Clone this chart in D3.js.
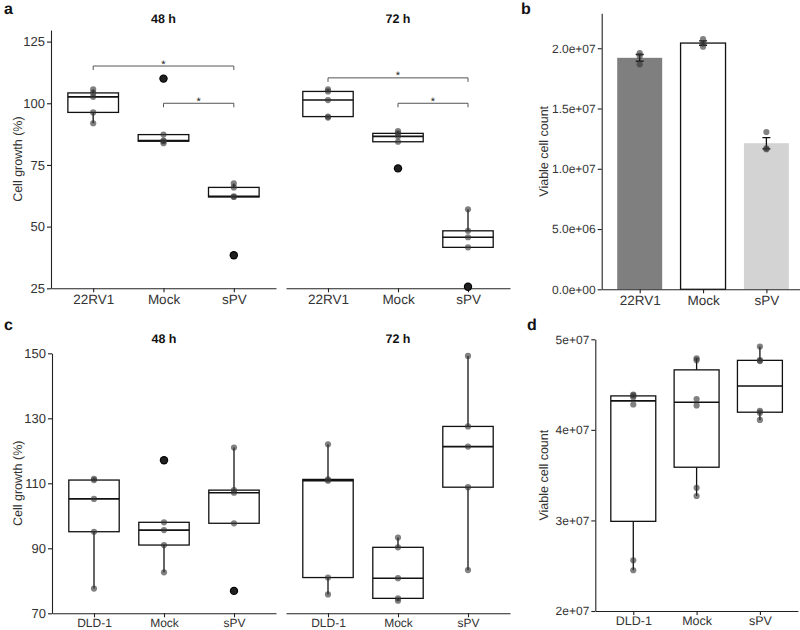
<!DOCTYPE html>
<html>
<head>
<meta charset="utf-8">
<script src="https://cdn.jsdelivr.net/npm/d3@7"></script>
<style>
  body { margin: 0; background: #fff; }
  svg { display: block; font-family: "Liberation Sans", Arial, sans-serif; text-rendering: geometricPrecision; }
</style>
</head>
<body>
<svg id="chart" width="800" height="630"></svg>
<script>
// ---------- DATA ----------
const catsA = ["22RV1", "Mock", "sPV"];
const catsC = ["DLD-1", "Mock", "sPV"];
const facetTitles = ["48 h", "72 h"];

// Panel a: cell growth (%) per replicate
const a48 = [
  [91.9, 96.3, 102.6, 104.2, 105.6],
  [83.8, 84.6, 84.9, 87.3, 110.0],
  [38.4, 62.0, 62.3, 65.9, 67.5]
];
const a72 = [
  [94.2, 94.6, 101.3, 104.8, 105.6],
  [73.6, 84.4, 86.6, 87.8, 88.7],
  [25.6, 41.6, 45.7, 48.3, 57.0]
];
// significance brackets: [from index, to index, height]
const aBrackets48 = [[0, 2, 115.1], [1, 2, 100.0]];
const aBrackets72 = [[0, 2, 110.3], [1, 2, 100.0]];
const aTicks = [25, 50, 75, 100, 125];

// Panel b: viable cell count replicates
const bPoints = [
  [19.59e6, 19.36e6, 18.67e6],
  [20.75e6, 20.41e6, 20.13e6],
  [13.05e6, 11.70e6, 11.62e6]
];
const bColors = ["#7f7f7f", "#ffffff", "#d3d3d3"];
const bTicks = [0, 5e6, 1e7, 1.5e7, 2e7];
const bTickLabels = ["0.0e+00", "5.0e+06", "1.0e+07", "1.5e+07", "2.0e+07"];

// Panel c: cell growth (%)
const c48 = [
  [77.6, 95.1, 105.2, 111.0, 111.4],
  [82.6, 91.0, 95.6, 98.0, 117.1],
  [76.9, 97.7, 107.1, 107.9, 121.0]
];
const c72 = [
  [75.8, 81.0, 110.8, 111.2, 122.0],
  [73.9, 74.6, 80.8, 90.3, 93.3],
  [83.3, 108.8, 121.3, 127.5, 149.2]
];
const cTicks = [70, 90, 110, 130, 150];

// Panel d: viable cell count
const dPoints = [
  [2.45e7, 2.56e7, 4.28e7, 4.36e7, 4.38e7, 4.39e7],
  [3.27e7, 3.36e7, 4.27e7, 4.34e7, 4.77e7, 4.79e7],
  [4.11e7, 4.19e7, 4.21e7, 4.76e7, 4.77e7, 4.92e7]
];
const dTicks = [2e7, 3e7, 4e7, 5e7];
const dTickLabels = ["2e+07", "3e+07", "4e+07", "5e+07"];

// ---------- HELPERS ----------
const svg = d3.select("#chart");
const AXIS_COL = "#222";
const TEXT_COL = "#333";
const FONT = "'Liberation Sans', Arial, sans-serif";

function boxStats(arr) {
  const s = arr.slice().sort(d3.ascending);
  const q1 = d3.quantile(s, 0.25), med = d3.quantile(s, 0.5), q3 = d3.quantile(s, 0.75);
  const iqr = q3 - q1;
  const inl = s.filter(v => v >= q1 - 1.5 * iqr && v <= q3 + 1.5 * iqr);
  return { q1, med, q3, lo: d3.min(inl), hi: d3.max(inl),
           out: s.filter(v => v < q1 - 1.5 * iqr || v > q3 + 1.5 * iqr) };
}

function styleAxis(g, fs) {
  g.selectAll("path.domain").attr("stroke", AXIS_COL).attr("stroke-width", 1.1);
  g.selectAll(".tick line").attr("stroke", AXIS_COL).attr("stroke-width", 1.1);
  g.selectAll(".tick text").attr("fill", TEXT_COL).style("font-size", fs + "px")
    .style("font-family", FONT);
}

function yAxis(x, y, ticks, labels, fs) {
  const ax = d3.axisLeft(y).tickValues(ticks).tickSize(4).tickSizeOuter(0).tickPadding(2);
  if (labels) ax.tickFormat((d, i) => labels[i]);
  const g = svg.append("g").attr("transform", `translate(${x},0)`).call(ax);
  styleAxis(g, fs);
}

function xAxis(yPos, x, fs, pad) {
  const ax = d3.axisBottom(x).tickSize(4).tickSizeOuter(0).tickPadding(pad);
  const g = svg.append("g").attr("transform", `translate(0,${yPos})`).call(ax);
  styleAxis(g, fs);
}

function yTitle(xPos, y, text, fs) {
  const r = y.range();
  svg.append("text")
    .attr("transform", `translate(${xPos},${(r[0] + r[1]) / 2}) rotate(-90)`)
    .attr("text-anchor", "middle").attr("fill", TEXT_COL)
    .style("font-size", fs + "px").text(text);
}

function panelLabel(x, y, t) {
  svg.append("text").attr("x", x).attr("y", y).attr("font-weight", "bold")
    .style("font-size", "16px").attr("fill", "#111").text(t);
}

function facetTitle(x, yPos, t) {
  const r = x.range();
  svg.append("text").attr("x", (r[0] + r[1]) / 2).attr("y", yPos)
    .attr("text-anchor", "middle").attr("font-weight", "bold")
    .style("font-size", "12.5px").attr("fill", "#111").text(t);
}

function drawBoxes(x, y, cats, data, widthFrac) {
  const g = svg.append("g");
  const bw = x.step() * widthFrac;
  cats.forEach((c, i) => {
    const st = boxStats(data[i]);
    const cx = x(c);
    g.append("line").attr("x1", cx).attr("x2", cx).attr("y1", y(st.hi)).attr("y2", y(st.q3))
      .attr("stroke", "#111").attr("stroke-width", 1.3);
    g.append("line").attr("x1", cx).attr("x2", cx).attr("y1", y(st.q1)).attr("y2", y(st.lo))
      .attr("stroke", "#111").attr("stroke-width", 1.3);
    g.append("rect").attr("x", cx - bw / 2).attr("width", bw)
      .attr("y", y(st.q3)).attr("height", y(st.q1) - y(st.q3))
      .attr("fill", "#fff").attr("stroke", "#111").attr("stroke-width", 1.3);
    g.append("line").attr("x1", cx - bw / 2).attr("x2", cx + bw / 2)
      .attr("y1", y(st.med)).attr("y2", y(st.med))
      .attr("stroke", "#111").attr("stroke-width", 1.6);
    st.out.forEach(v => {
      g.append("circle").attr("cx", cx).attr("cy", y(v)).attr("r", 4.2).attr("fill", "#000");
    });
    data[i].forEach(v => {
      g.append("circle").attr("cx", cx).attr("cy", y(v)).attr("r", 3.1)
        .attr("fill", "#333").attr("fill-opacity", 0.62);
    });
  });
}

function drawBrackets(x, y, cats, br) {
  br.forEach(b => {
    const x1 = x(cats[b[0]]), x2 = x(cats[b[1]]), yy = y(b[2]);
    svg.append("path")
      .attr("d", `M${x1},${yy + 4}V${yy}H${x2}V${yy + 4}`)
      .attr("fill", "none").attr("stroke", "#555").attr("stroke-width", 1);
    svg.append("text").attr("x", (x1 + x2) / 2).attr("y", yy + 1.5)
      .attr("text-anchor", "middle").style("font-size", "11px")
      .style("font-family", FONT).attr("fill", "#222").text("*");
  });
}

// ---------- PANEL a ----------
{
  const y = d3.scaleLinear().domain([25, 129.7]).range([288.3, 30]);
  const xL = d3.scalePoint().domain(catsA).range([51, 276]).padding(0.6);
  const xR = d3.scalePoint().domain(catsA).range([286, 510]).padding(0.6);
  yAxis(51, y, aTicks, null, 13);
  xAxis(288.3, xL, 13.5, 2);
  xAxis(288.3, xR, 13.5, 2);
  drawBoxes(xL, y, catsA, a48, 0.72);
  drawBoxes(xR, y, catsA, a72, 0.72);
  drawBrackets(xL, y, catsA, aBrackets48);
  drawBrackets(xR, y, catsA, aBrackets72);
  facetTitle(xL, 23, facetTitles[0]);
  facetTitle(xR, 23, facetTitles[1]);
  yTitle(22, y, "Cell growth (%)", 12.5);
  panelLabel(4, 14, "a");
}

// ---------- PANEL b ----------
{
  const y = d3.scaleLinear().domain([0, 2.29e7]).range([289.3, 13.3]);
  const x = d3.scalePoint().domain(catsA).range([601.7, 804.4]).padding(0.6);
  const bw = x.step() * 0.71;
  const g = svg.append("g");
  catsA.forEach((c, i) => {
    const m = d3.mean(bPoints[i]);
    const se = d3.deviation(bPoints[i]) / Math.sqrt(bPoints[i].length);
    const cx = x(c);
    g.append("rect").attr("x", cx - bw / 2).attr("width", bw)
      .attr("y", y(m)).attr("height", y(0) - y(m))
      .attr("fill", bColors[i])
      .attr("stroke", i === 1 ? "#111" : "none").attr("stroke-width", 1.3);
    const ew = 4;
    g.append("path")
      .attr("d", `M${cx - ew},${y(m + se)}H${cx + ew}M${cx},${y(m + se)}V${y(m - se)}M${cx - ew},${y(m - se)}H${cx + ew}`)
      .attr("stroke", "#111").attr("stroke-width", 1.3).attr("fill", "none");
    bPoints[i].forEach(v => {
      g.append("circle").attr("cx", cx).attr("cy", y(v)).attr("r", 3.1)
        .attr("fill", "#333").attr("fill-opacity", 0.62);
    });
  });
  yAxis(601.7, y, bTicks, bTickLabels, 12);
  xAxis(289.3, x, 13.5, 2);
  yTitle(548, y, "Viable cell count", 12.5);
  panelLabel(521, 14, "b");
}

// ---------- PANEL c ----------
{
  const y = d3.scaleLinear().domain([70, 150]).range([613.3, 353.3]);
  const xL = d3.scalePoint().domain(catsC).range([52, 276]).padding(0.6);
  const xR = d3.scalePoint().domain(catsC).range([286, 510]).padding(0.6);
  yAxis(52, y, cTicks, null, 13);
  xAxis(613.3, xL, 12, 1);
  xAxis(613.3, xR, 12, 1);
  drawBoxes(xL, y, catsC, c48, 0.72);
  drawBoxes(xR, y, catsC, c72, 0.72);
  facetTitle(xL, 343, facetTitles[0]);
  facetTitle(xR, 343, facetTitles[1]);
  yTitle(22, y, "Cell growth (%)", 12.5);
  panelLabel(4, 330, "c");
}

// ---------- PANEL d ----------
{
  const y = d3.scaleLinear().domain([2e7, 5e7]).range([611, 339.3]);
  const x = d3.scalePoint().domain(catsC).range([595.3, 797.9]).padding(0.6);
  drawBoxes(x, y, catsC, dPoints, 0.71);
  yAxis(595.3, y, dTicks, dTickLabels, 12);
  xAxis(611, x, 12.5, 1);
  yTitle(548, y, "Viable cell count", 12.5);
  panelLabel(527, 330, "d");
}
</script>
</body>
</html>
